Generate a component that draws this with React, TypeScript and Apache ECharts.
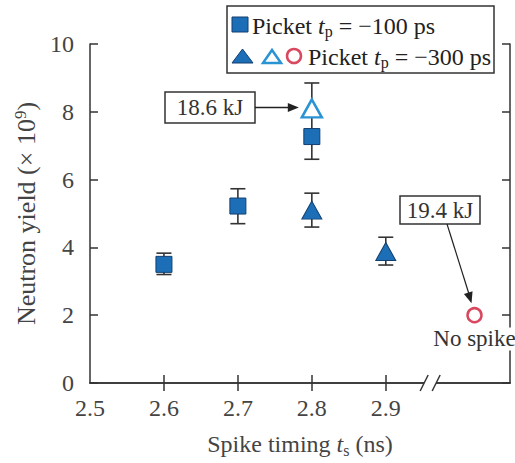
import React, { useEffect, useRef } from "react";
import * as echarts from "echarts";

const xTickValues = [2.6, 2.7, 2.8, 2.9];
const xLabelValues = [2.5, 2.6, 2.7, 2.8, 2.9];

// Picket tp = -100 ps (filled squares)
const squareX = [2.6, 2.7, 2.8];
const squareY = [3.5, 5.22, 7.27];
const squareLow = [3.2, 4.7, 6.6];
const squareHigh = [3.83, 5.73, 7.9];

// Picket tp = -300 ps (filled triangles)
const triX = [2.8, 2.9];
const triY = [5.1, 3.88];
const triLow = [4.6, 3.48];
const triHigh = [5.6, 4.3];

// Picket tp = -300 ps, 18.6 kJ (open triangle)
const openTriX = [2.8];
const openTriY = [8.1];
const openTriLow = [7.9];
const openTriHigh = [8.85];

// Picket tp = -300 ps, no spike (open circle)
const noSpikeX = [3.02];
const noSpikeY = [2.0];

const breakX = 2.96;
const annotationTexts = ["18.6 kJ", "19.4 kJ"];
const noSpikeText = "No spike";

const FONT = "Liberation Serif";
const BLUE = "#1c6fb7";
const BLUE_DARK = "#123f70";
const LIGHT_BLUE = "#2a93d3";
const RED = "#d8485f";
const INK = "#333";

export default function App() {
  const ref = useRef<HTMLDivElement>(null);

  useEffect(() => {
    if (!ref.current) return;
    const chart = echarts.init(ref.current, null, { renderer: "svg" });

    const errData = [
      ...squareX.map((x, i) => [x, squareLow[i], squareHigh[i]]),
      ...triX.map((x, i) => [x, triLow[i], triHigh[i]]),
      ...openTriX.map((x, i) => [x, openTriLow[i], openTriHigh[i]]),
    ];

    const axisLineStyle = { color: INK, width: 1.5 };

    chart.setOption({
      animation: false,
      textStyle: { fontFamily: FONT },
      grid: { left: 90, right: 5, top: 44, bottom: 80 },
      xAxis: [
        {
          type: "value",
          min: 2.5,
          max: 3.068,
          position: "bottom",
          axisLine: { show: true, lineStyle: axisLineStyle },
          axisTick: { show: true, inside: true, length: 8, customValues: xTickValues, lineStyle: axisLineStyle },
          axisLabel: {
            show: true,
            customValues: xLabelValues,
            formatter: (v: number) => v.toFixed(1),
            fontSize: 24,
            fontFamily: FONT,
            color: "#444",
            margin: 13,
          },
          splitLine: { show: false },
          name: "{a|Spike timing }{i|t}{s|s}{a| (ns)}",
          nameLocation: "middle",
          nameGap: 47,
          nameTextStyle: {
            rich: {
              a: { fontSize: 24, fontFamily: FONT, color: "#444" },
              i: { fontSize: 24, fontFamily: FONT, fontStyle: "italic", color: "#444" },
              s: { fontSize: 16, fontFamily: FONT, color: "#444", padding: [12, 0, 0, 0] },
            },
          },
        },
        {
          type: "value",
          min: 2.5,
          max: 3.068,
          position: "top",
          axisLine: { show: true, lineStyle: axisLineStyle },
          axisTick: { show: true, inside: true, length: 8, customValues: xTickValues, lineStyle: axisLineStyle },
          axisLabel: { show: false },
          splitLine: { show: false },
        },
      ],
      yAxis: [
        {
          type: "value",
          min: 0,
          max: 10,
          interval: 2,
          position: "left",
          axisLine: { show: true, lineStyle: axisLineStyle },
          axisTick: { show: true, inside: true, length: 8, lineStyle: axisLineStyle },
          axisLabel: { fontSize: 24, fontFamily: FONT, color: "#444", margin: 16 },
          splitLine: { show: false },
          name: "{a|Neutron yield (× 10}{sup|9}{a|)}",
          nameLocation: "middle",
          nameGap: 44,
          nameRotate: 90,
          nameTextStyle: {
            rich: {
              a: { fontSize: 26, fontFamily: FONT, color: "#444" },
              sup: { fontSize: 17, fontFamily: FONT, color: "#444", padding: [0, 0, 12, 0] },
            },
          },
        },
        {
          type: "value",
          min: 0,
          max: 10,
          interval: 2,
          position: "right",
          axisLine: { show: true, lineStyle: axisLineStyle },
          axisTick: { show: true, inside: true, length: 8, lineStyle: axisLineStyle },
          axisLabel: { show: false },
          splitLine: { show: false },
        },
      ],
      series: [
        {
          type: "custom",
          xAxisIndex: 0,
          yAxisIndex: 0,
          z: 1,
          data: errData,
          encode: { x: 0, y: [1, 2] },
          renderItem: (params: any, api: any) => {
            const x = api.value(0);
            const lo = api.coord([x, api.value(1)]);
            const hi = api.coord([x, api.value(2)]);
            const w = 7.5;
            const st = { stroke: INK, lineWidth: 1.6 };
            return {
              type: "group",
              children: [
                { type: "line", shape: { x1: lo[0], y1: lo[1], x2: hi[0], y2: hi[1] }, style: st },
                { type: "line", shape: { x1: lo[0] - w, y1: lo[1], x2: lo[0] + w, y2: lo[1] }, style: st },
                { type: "line", shape: { x1: hi[0] - w, y1: hi[1], x2: hi[0] + w, y2: hi[1] }, style: st },
              ],
            };
          },
        },
        {
          type: "scatter",
          z: 3,
          symbol: "rect",
          symbolSize: 16,
          itemStyle: { color: BLUE, borderColor: BLUE_DARK, borderWidth: 1, opacity: 1 },
          data: squareX.map((x, i) => [x, squareY[i]]),
        },
        {
          type: "scatter",
          z: 3,
          symbol: "triangle",
          symbolSize: [20, 18],
          itemStyle: { color: BLUE, borderColor: BLUE_DARK, borderWidth: 1, opacity: 1 },
          data: triX.map((x, i) => [x, triY[i]]),
        },
        {
          type: "scatter",
          z: 3,
          symbol: "triangle",
          symbolSize: [20, 18],
          itemStyle: { color: "#fff", borderColor: LIGHT_BLUE, borderWidth: 2.5, opacity: 1 },
          data: openTriX.map((x, i) => [x, openTriY[i]]),
        },
        {
          type: "scatter",
          z: 3,
          symbol: "circle",
          symbolSize: 14,
          itemStyle: { color: "#fff", borderColor: RED, borderWidth: 2.5, opacity: 1 },
          label: {
            show: true,
            position: "bottom",
            distance: 4,
            formatter: noSpikeText,
            fontSize: 23,
            fontFamily: FONT,
            color: "#333",
            backgroundColor: "#fff",
          },
          data: noSpikeX.map((x, i) => [x, noSpikeY[i]]),
        },
      ],
    });

    const toPx = (v: number[]) => chart.convertToPixel({ gridIndex: 0 }, v) as number[];
    const pTri = toPx([openTriX[0], openTriY[0]]);
    const pCirc = toPx([noSpikeX[0], noSpikeY[0]]);
    const pBreak = toPx([breakX, 0]);

    const arrowHead = (tx: number, ty: number, fx: number, fy: number) => {
      const ang = Math.atan2(ty - fy, tx - fx);
      const L = 11;
      const W = 4.5;
      const bx = tx - L * Math.cos(ang);
      const by = ty - L * Math.sin(ang);
      const nx = -Math.sin(ang);
      const ny = Math.cos(ang);
      return {
        type: "polygon",
        z: 10,
        shape: { points: [[tx, ty], [bx + nx * W, by + ny * W], [bx - nx * W, by - ny * W]] },
        style: { fill: "#222" },
      };
    };

    // Annotation 1
    const a1 = { x: 165, y: 92, w: 90, h: 31 };
    const a1From = [a1.x + a1.w, a1.y + a1.h / 2];
    const a1To = [pTri[0] - 13, a1.y + a1.h / 2];
    // Annotation 2
    const a2 = { x: 400, y: 196, w: 80, h: 28 };
    const a2From = [447, a2.y + a2.h];
    const a2To = [pCirc[0] - 3, pCirc[1] - 12];

    const legendX = 227;
    const legendY = 6;
    const richLegend = {
      a: { fontSize: 24, fontFamily: FONT, fill: "#222" },
      i: { fontSize: 24, fontFamily: FONT, fontStyle: "italic", fill: "#222" },
      s: { fontSize: 16, fontFamily: FONT, fill: "#222", padding: [11, 0, 0, 0] },
    };

    chart.setOption({
      graphic: [
        // axis break
        {
          type: "rect",
          z: 10,
          shape: { x: pBreak[0] - 6, y: pBreak[1] - 3, width: 12, height: 6 },
          style: { fill: "#fff" },
        },
        {
          type: "line",
          z: 11,
          shape: { x1: pBreak[0] - 10, y1: pBreak[1] + 8, x2: pBreak[0] - 2, y2: pBreak[1] - 8 },
          style: { stroke: INK, lineWidth: 1.5 },
        },
        {
          type: "line",
          z: 11,
          shape: { x1: pBreak[0] + 2, y1: pBreak[1] + 8, x2: pBreak[0] + 10, y2: pBreak[1] - 8 },
          style: { stroke: INK, lineWidth: 1.5 },
        },
        // annotation 1
        {
          type: "rect",
          z: 10,
          shape: { x: a1.x, y: a1.y, width: a1.w, height: a1.h },
          style: { fill: "#fff", stroke: INK, lineWidth: 1.5 },
        },
        {
          type: "text",
          z: 11,
          x: a1.x + a1.w / 2,
          y: a1.y + a1.h / 2,
          style: { text: annotationTexts[0], fontSize: 23, fontFamily: FONT, fill: "#333", align: "center", verticalAlign: "middle" },
        },
        {
          type: "line",
          z: 10,
          shape: { x1: a1From[0], y1: a1From[1], x2: a1To[0] - 6, y2: a1To[1] },
          style: { stroke: "#222", lineWidth: 1.5 },
        },
        arrowHead(a1To[0], a1To[1], a1From[0], a1From[1]),
        // annotation 2
        {
          type: "rect",
          z: 10,
          shape: { x: a2.x, y: a2.y, width: a2.w, height: a2.h },
          style: { fill: "#fff", stroke: INK, lineWidth: 1.5 },
        },
        {
          type: "text",
          z: 11,
          x: a2.x + a2.w / 2,
          y: a2.y + a2.h / 2,
          style: { text: annotationTexts[1], fontSize: 23, fontFamily: FONT, fill: "#333", align: "center", verticalAlign: "middle" },
        },
        {
          type: "line",
          z: 10,
          shape: { x1: a2From[0], y1: a2From[1], x2: a2To[0] - 1.5, y2: a2To[1] - 6 },
          style: { stroke: "#222", lineWidth: 1.2 },
        },
        arrowHead(a2To[0], a2To[1], a2From[0], a2From[1]),
        // legend
        {
          type: "group",
          x: legendX,
          y: legendY,
          z: 20,
          children: [
            {
              type: "rect",
              shape: { x: 0, y: 0, width: 267, height: 67 },
              style: { fill: "#fff", stroke: INK, lineWidth: 1.5 },
            },
            {
              type: "rect",
              shape: { x: 5, y: 11, width: 16, height: 15 },
              style: { fill: BLUE, stroke: BLUE_DARK, lineWidth: 1 },
            },
            {
              type: "text",
              x: 25,
              y: 20,
              style: { text: "{a|Picket }{i|t}{s|p}{a| = −100 ps}", rich: richLegend, verticalAlign: "middle" },
            },
            {
              type: "polygon",
              shape: { points: [[15.5, 43], [5, 57], [26, 57]] },
              style: { fill: BLUE, stroke: BLUE_DARK, lineWidth: 1 },
            },
            {
              type: "polygon",
              shape: { points: [[45, 44], [36, 57], [54, 57]] },
              style: { fill: "#fff", stroke: LIGHT_BLUE, lineWidth: 2.5 },
            },
            {
              type: "circle",
              shape: { cx: 67, cy: 50, r: 7 },
              style: { fill: "#fff", stroke: RED, lineWidth: 2.5 },
            },
            {
              type: "text",
              x: 81,
              y: 51,
              style: { text: "{a|Picket }{i|t}{s|p}{a| = −300 ps}", rich: richLegend, verticalAlign: "middle" },
            },
          ],
        },
      ],
    });

    return () => chart.dispose();
  }, []);

  return (
    <div
      ref={ref}
      style={{ position: "absolute", left: 0, top: 0, width: 515, height: 463, background: "#fff" }}
    />
  );
}
